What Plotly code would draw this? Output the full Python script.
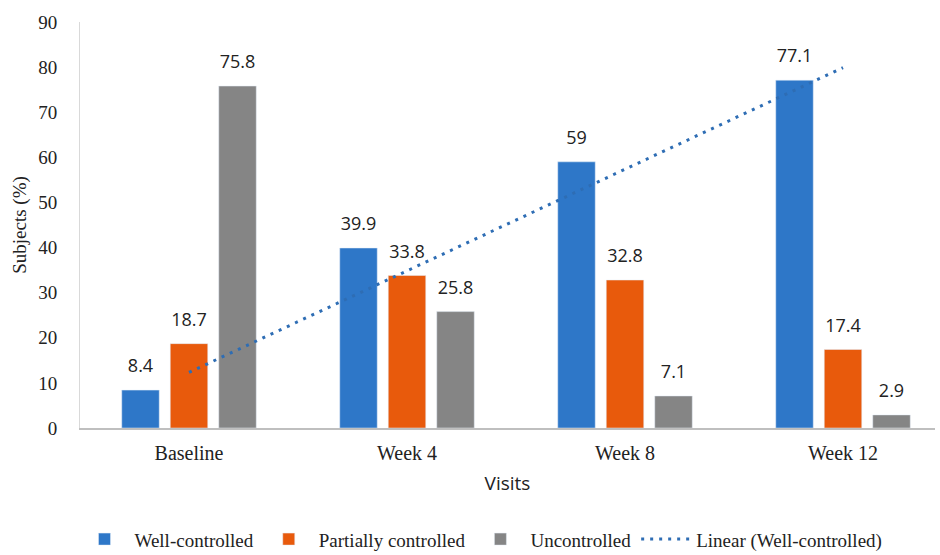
import numpy as np
import plotly.graph_objects as go

visits = ["Baseline", "Week 4", "Week 8", "Week 12"]
well_controlled = [8.4, 39.9, 59, 77.1]
partially_controlled = [18.7, 33.8, 32.8, 17.4]
uncontrolled = [75.8, 25.8, 7.1, 2.9]
y_ticks = [0, 10, 20, 30, 40, 50, 60, 70, 80, 90]

# Excel-style linear trendline of the well-controlled series
xi = np.arange(1, len(visits) + 1)
slope, intercept = np.polyfit(xi, well_controlled, 1)
trend = list(slope * xi + intercept)

serif = '"Liberation Serif", "Times New Roman", "DejaVu Serif", serif'
sans = '"Open Sans", "Liberation Sans", sans-serif'

def lab(v):
    return f"{v:g}"

fig = go.Figure()
series = [
    ("Well-controlled", well_controlled, "#2E77C8", "g1"),
    ("Partially controlled", partially_controlled, "#E85A0C", "g2"),
    ("Uncontrolled", uncontrolled, "#858585", "g3"),
]
for name, vals, col, grp in series:
    fig.add_trace(go.Bar(
        x=visits, y=vals, name=name, marker_color=col,
        offsetgroup=grp,
    ))
for name, vals, col, grp in series:
    fig.add_trace(go.Scatter(
        x=visits, y=vals, mode="markers+text", offsetgroup=grp,
        text=[lab(v) for v in vals], textposition="top center",
        marker=dict(size=20, color="rgba(0,0,0,0)"),
        textfont=dict(family=sans, size=18, color="#222222"),
        showlegend=False, hoverinfo="skip", cliponaxis=False,
    ))

# trendline sits at the category centre (the middle group)
fig.add_trace(go.Scatter(
    x=visits, y=trend, mode="lines", name="Linear (Well-controlled)",
    offsetgroup="g2",
    line=dict(color="#2E6DB4", width=3, dash="3px,6px"),
))

fig.update_layout(
    width=940, height=555,
    margin=dict(l=80, r=5, t=22, b=127, autoexpand=False),
    plot_bgcolor="white", paper_bgcolor="white",
    barmode="group", bargap=0.3325, bargroupgap=0.227,
    scattermode="group", scattergap=0.3325,
    showlegend=True,
    legend=dict(orientation="h", x=0.469, xanchor="center", y=-0.274, yanchor="middle",
                font=dict(family=serif, size=19, color="#222222"),
                traceorder="normal", itemwidth=50, tracegroupgap=0),
)
fig.update_xaxes(
    automargin=False, range=[-0.5, 3.422],
    showline=True, linecolor="#BFBFBF", linewidth=1.5, ticks="",
    ticklabelstandoff=6,
    tickfont=dict(family=serif, size=20, color="#222222"),
    title=dict(text="Visits", font=dict(family=sans, size=19, color="#222222"), standoff=14),
)
fig.update_yaxes(
    automargin=False,
    range=[0, 90], tickvals=y_ticks, showgrid=False, zeroline=False,
    showline=True, linecolor="#D9D9D9", linewidth=1, ticks="",
    ticklabelstandoff=18,
    tickfont=dict(family=serif, size=19, color="#222222"),
    title=dict(text="Subjects (%)", font=dict(family=serif, size=19, color="#222222"), standoff=6),
)

fig.write_html("out.html")
